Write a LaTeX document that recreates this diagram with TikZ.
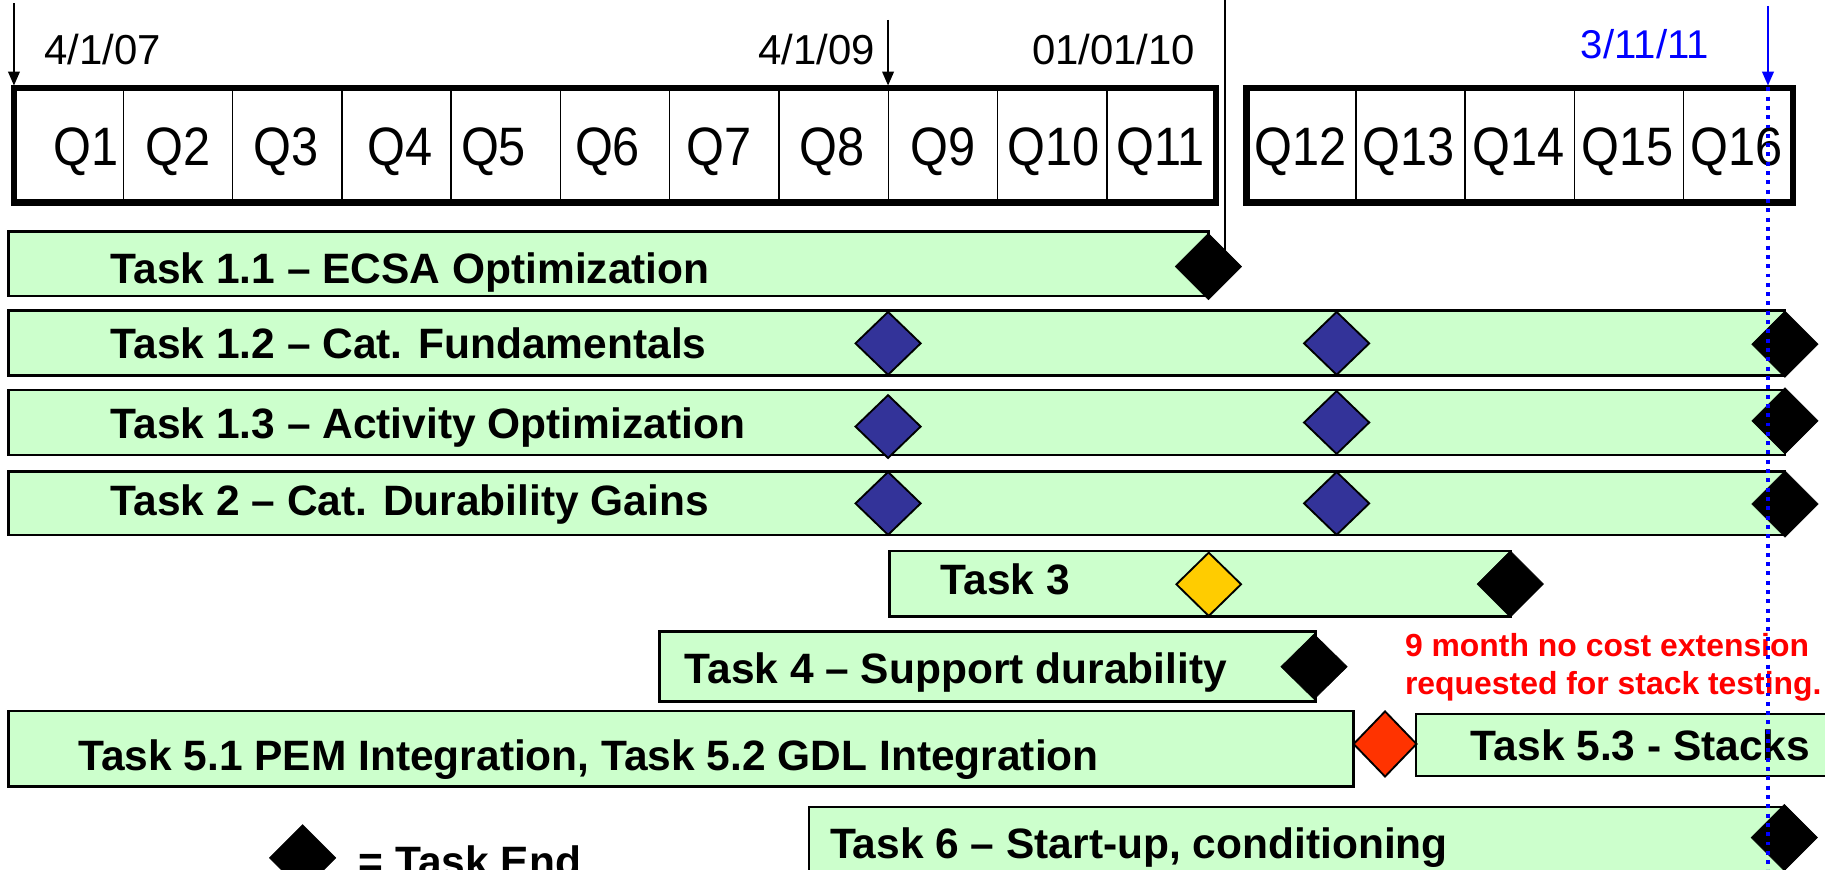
\documentclass[tikz,border=0pt]{standalone}
\usepackage{fontspec}
\setmainfont{Liberation Sans}
\newfontfamily\qfont{Liberation Sans}[FakeStretch=0.9]
\usetikzlibrary{arrows.meta}
\definecolor{barfill}{HTML}{CCFFCC}
\definecolor{msblue}{HTML}{333399}
\definecolor{msyellow}{HTML}{FFCC00}
\definecolor{msred}{HTML}{FF3300}
\newcommand\dia[5]{\path[#1] ({#2-#4},#3) -- (#2,{#3-#5}) -- ({#2+#4},#3) -- (#2,{#3+#5}) -- cycle;}
\begin{document}
\begin{tikzpicture}[x=1pt,y=-1pt,
  bar/.style={draw=black, fill=barfill, line width=2.4pt},
  enddia/.style={fill=black, draw=black, line width=0.5pt},
  bluedia/.style={fill=msblue, draw=black, line width=1.6pt},
  yeldia/.style={fill=msyellow, draw=black, line width=1.6pt},
  reddia/.style={fill=msred, draw=black, line width=1.6pt},
  tasklbl/.style={anchor=base west, inner sep=0pt, font=\bfseries\fontsize{36.5}{40}\selectfont},
  qlbl/.style={anchor=base, inner sep=0pt, font=\qfont\fontsize{46.5}{50}\selectfont},
  datelbl/.style={inner sep=0pt, font=\fontsize{36}{40}\selectfont},
  extlbl/.style={anchor=base west, inner sep=0pt, text=red, font=\bfseries\fontsize{27.4}{33}\selectfont},
  qframe/.style={draw=black, line width=5.5pt},
  qdiv/.style={draw=black, line width=1.3pt},
  darrow/.style={draw=black, line width=1.5pt, -{Triangle[length=12pt,width=10pt]}},
  barrow/.style={draw=blue, line width=1.7pt, -{Triangle[length=12pt,width=10pt]}},
  todayline/.style={draw=blue, line width=3.4pt, dash pattern=on 3.4pt off 4.6pt},
]
\useasboundingbox (0,0) rectangle (1568,747);
\clip (0,0) rectangle (1568,747);

% ---- vertical separator line (behind the Task 1.1 end diamond)
\coordinate (sepTop) at (1052.5,0);
\coordinate (sepBot) at (1052.5,229);
\draw[line width=1.7pt] (sepTop) -- (sepBot);

% ---- quarter boxes
\foreach \i in {1,...,10} { \draw[qdiv] ({12+93.9*\i},75.5) -- ({12+93.9*\i},174); }
\draw[qframe] (12,75.5) rectangle (1045,174);
\foreach \i in {1,...,4} { \draw[qdiv] ({1071+93.9*\i},75.5) -- ({1071+93.9*\i},174); }
\draw[qframe] (1071,75.5) rectangle (1540.5,174);

\node[qlbl] (q1) at (74,142) {Q1};
\node[qlbl] (q2) at (153,142) {Q2};
\node[qlbl] (q3) at (246,142) {Q3};
\node[qlbl] (q4) at (344,142) {Q4};
\node[qlbl] (q5) at (424,142) {Q5};
\node[qlbl] (q6) at (522,142) {Q6};
\node[qlbl] (q7) at (618,142) {Q7};
\node[qlbl] (q8) at (715,142) {Q8};
\node[qlbl] (q9) at (810,142) {Q9};
\node[qlbl] (q10) at (905,142) {Q10};
\node[qlbl] (q11) at (997,142) {Q11};
\node[qlbl] (q12) at (1117.5,142) {Q12};
\node[qlbl] (q13) at (1210.5,142) {Q13};
\node[qlbl] (q14) at (1304.5,142) {Q14};
\node[qlbl] (q15) at (1398,142) {Q15};
\node[qlbl] (q16) at (1492,142) {Q16};

% ---- dates and arrows
\node[datelbl, anchor=base west] (d07) at (38,55) {4/1/07};
\node[datelbl, anchor=base east] (d09) at (752,55) {4/1/09};
\node[datelbl, anchor=base east] (d10) at (1027,55) {01/01/10};
\node[datelbl, anchor=base west, text=blue, font=\fontsize{34.5}{38}\selectfont] (d11) at (1358,50) {3/11/11};
\coordinate (a07s) at (12,3);   \coordinate (a07e) at (12,73.5);
\coordinate (a09s) at (763,17); \coordinate (a09e) at (763,73.5);
\coordinate (a11s) at (1519,5); \coordinate (a11e) at (1519,73.5);
\draw[darrow] (a07s) -- (a07e);
\draw[darrow] (a09s) -- (a09e);
\draw[barrow] (a11s) -- (a11e);

% ---- bars
\draw[bar] (7,199) rectangle (1038.2,254.3);
\draw[bar] (7,267) rectangle (1533.6,322.5);
\draw[bar] (7,335) rectangle (1533.6,391);
\draw[bar] (7,405.3) rectangle (1533.6,459.7);
\draw[bar] (764,473.4) rectangle (1297.6,529.8);
\draw[bar] (566.8,542.7) rectangle (1130,603);
\draw[bar] (7.4,610.9) rectangle (1163,675.9);
\draw[bar] (1216.6,613.4) rectangle (1580,666.7);
\draw[bar] (695,693.3) rectangle (1533,760);

% ---- task labels
\node[tasklbl] (t11) at (95,243.5) {Task 1.1 – ECSA Optimization};
\node[tasklbl] (t12) at (95,308) {Task 1.2 – Cat. Fundamentals};
\node[tasklbl] (t13) at (95,376.6) {Task 1.3 – Activity Optimization};
\node[tasklbl] (t2) at (95,443.3) {Task 2 – Cat. Durability Gains};
\node[tasklbl] (t3) at (808,511) {Task 3};
\node[tasklbl] (t4) at (588,587) {Task 4 – Support durability};
\node[tasklbl] (t51) at (67,661.6) {Task 5.1 PEM Integration, Task 5.2 GDL Integration};
\node[tasklbl] (t53) at (1263.6,653.5) {Task 5.3 - Stacks};
\node[tasklbl] (t6) at (713,737.4) {Task 6 – Start-up, conditioning};

% ---- milestones
\dia{enddia}{1038.2}{229}{28.5}{28.5}
\dia{bluedia}{763}{295}{28}{27}
\dia{bluedia}{1148.4}{295}{28}{27}
\dia{bluedia}{763}{366.5}{28}{27}
\dia{bluedia}{1148.4}{363}{28}{27}
\dia{bluedia}{763}{432.5}{28}{27}
\dia{bluedia}{1148.4}{432.5}{28}{27}
\dia{enddia}{1533.6}{295.7}{28.5}{28.5}
\dia{enddia}{1533.6}{361.6}{28.5}{28.5}
\dia{enddia}{1533.6}{433}{28.5}{28.5}
\dia{yeldia}{1038.5}{502}{27.8}{27.2}
\dia{enddia}{1297.6}{501.8}{28.5}{28.5}
\dia{enddia}{1129}{572.8}{28.5}{28}
\dia{reddia}{1190}{639.2}{27}{28}
\dia{enddia}{1533}{719.6}{28.5}{28.5}

% ---- extension note
\node[extlbl] (ext1) at (1207,564.2) {9 month no cost extension};
\node[extlbl] (ext2) at (1207,597) {requested for stack testing.};

% ---- legend
\dia{enddia}{260}{737}{28.5}{28.5}
\node[tasklbl] (legend) at (308,753) {= Task End};

% ---- today line
\coordinate (todayTop) at (1519,75);
\coordinate (todayBot) at (1519,747);
\draw[todayline] (todayTop) -- (todayBot);
\end{tikzpicture}
\end{document}
